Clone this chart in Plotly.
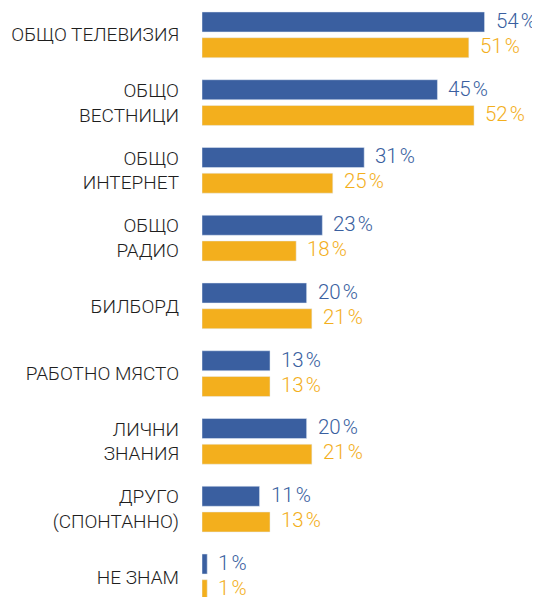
import plotly.graph_objects as go

categories = ["ОБЩО ТЕЛЕВИЗИЯ", "ОБЩО<br>ВЕСТНИЦИ", "ОБЩО<br>ИНТЕРНЕТ", "ОБЩО<br>РАДИО",
              "БИЛБОРД", "РАБОТНО МЯСТО", "ЛИЧНИ<br>ЗНАНИЯ", "ДРУГО<br>(СПОНТАННО)", "НЕ ЗНАМ"]
series_blue = [54, 45, 31, 23, 20, 13, 20, 11, 1]
series_orange = [51, 52, 25, 18, 21, 13, 21, 13, 1]

BLUE = "#3a5fa0"
ORANGE = "#f3af1d"
FONT = "Roboto"

fig = go.Figure()
fig.add_trace(go.Bar(y=categories, x=series_blue, orientation="h", marker_color=BLUE,
                     name="blue", hoverinfo="skip"))
fig.add_trace(go.Bar(y=categories, x=series_orange, orientation="h", marker_color=ORANGE,
                     name="orange", hoverinfo="skip"))

annotations = []
for c, v in zip(categories, series_blue):
    annotations.append(dict(x=v, y=c, xref="x", yref="y", text=f"{v}\u200a%", showarrow=False,
                            xanchor="left", yanchor="middle", xshift=9, yshift=14,
                            font=dict(family=FONT, size=20.5, color=BLUE, weight=300)))
for c, v in zip(categories, series_orange):
    annotations.append(dict(x=v, y=c, xref="x", yref="y", text=f"{v}\u200a%", showarrow=False,
                            xanchor="left", yanchor="middle", xshift=9, yshift=-11,
                            font=dict(family=FONT, size=20.5, color=ORANGE, weight=300)))

fig.update_layout(
    width=532, height=589,
    margin=dict(l=194, r=0, t=0, b=0),
    paper_bgcolor="white", plot_bgcolor="white",
    barmode="group", bargap=0.241, bargroupgap=0.222,
    showlegend=False,
    annotations=annotations,
    xaxis=dict(range=[0, 64.6], visible=False, fixedrange=True),
    yaxis=dict(type="category", range=[8.297, -0.396], showgrid=False, zeroline=False,
               showline=False, ticks="", ticklabelstandoff=22,
               tickfont=dict(family=FONT, size=19, color="#1e1e1e", weight=300)),
)

fig.write_html("out.html")
